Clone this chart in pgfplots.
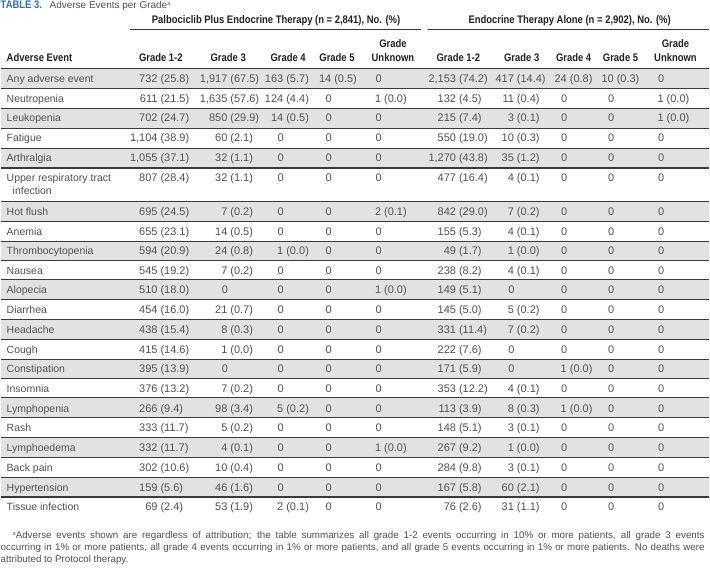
\documentclass[border=0pt]{standalone}
\usepackage{pgfplots}
\pgfplotsset{compat=1.18}
\usepackage{pgfplotstable}
\usepackage{fontspec}
\setmainfont{Liberation Sans}
\newfontfamily\hdr{Liberation Sans}[FakeStretch=0.86]
\definecolor{rowgray}{HTML}{E2E2E2}
\definecolor{rulec}{HTML}{3A3A3A}
\definecolor{bodytext}{HTML}{525252}
\definecolor{headtext}{HTML}{222222}
\definecolor{titleblue}{HTML}{2A72B8}
\newcommand\bodyfont{\fontsize{10.5bp}{12bp}\selectfont}
\newcommand\numfont{\fontsize{11bp}{12bp}\selectfont}
\newcommand\hdrf{\hdr\bfseries\fontsize{11bp}{13bp}\selectfont}
\newcommand\footf{\fontsize{9.8bp}{12bp}\selectfont}
\def\cellsplit#1 #2\relax{\llap{#1}\ifx\relax#2\relax\else\ #2\fi}

\pgfplotstableread[col sep=semicolon]{
y;ae;p12;p3;p4;p5;pu;e12;e3;e4;e5;eu
83;Any adverse event;732 (25.8);1,917 (67.5);163 (5.7);14 (0.5);0;2,153 (74.2);417 (14.4);24 (0.8);10 (0.3);0
102.5;Neutropenia;611 (21.5);1,635 (57.6);124 (4.4);0;1 (0.0);132 (4.5);11 (0.4);0;0;1 (0.0)
122;Leukopenia;702 (24.7);850 (29.9);14 (0.5);0;0;215 (7.4);3 (0.1);0;0;1 (0.0)
142;Fatigue;1,104 (38.9);60 (2.1);0;0;0;550 (19.0);10 (0.3);0;0;0
162;Arthralgia;1,055 (37.1);32 (1.1);0;0;0;1,270 (43.8);35 (1.2);0;0;0
181.5;Upper respiratory tract;807 (28.4);32 (1.1);0;0;0;477 (16.4);4 (0.1);0;0;0
215.5;Hot flush;695 (24.5);7 (0.2);0;0;2 (0.1);842 (29.0);7 (0.2);0;0;0
235.5;Anemia;655 (23.1);14 (0.5);0;0;0;155 (5.3);4 (0.1);0;0;0
255;Thrombocytopenia;594 (20.9);24 (0.8);1 (0.0);0;0;49 (1.7);1 (0.0);0;0;0
274.5;Nausea;545 (19.2);7 (0.2);0;0;0;238 (8.2);4 (0.1);0;0;0
294;Alopecia;510 (18.0);0;0;0;1 (0.0);149 (5.1);0;0;0;0
314;Diarrhea;454 (16.0);21 (0.7);0;0;0;145 (5.0);5 (0.2);0;0;0
334;Headache;438 (15.4);8 (0.3);0;0;0;331 (11.4);7 (0.2);0;0;0
354;Cough;415 (14.6);1 (0.0);0;0;0;222 (7.6);0;0;0;0
373.5;Constipation;395 (13.9);0;0;0;0;171 (5.9);0;1 (0.0);0;0
393;Insomnia;376 (13.2);7 (0.2);0;0;0;353 (12.2);4 (0.1);0;0;0
413;Lymphopenia;266 (9.4);98 (3.4);5 (0.2);0;0;113 (3.9);8 (0.3);1 (0.0);0;0
432.5;Rash;333 (11.7);5 (0.2);0;0;0;148 (5.1);3 (0.1);0;0;0
452.5;Lymphoedema;332 (11.7);4 (0.1);0;0;1 (0.0);267 (9.2);1 (0.0);0;0;0
472;Back pain;302 (10.6);10 (0.4);0;0;0;284 (9.8);3 (0.1);0;0;0
492;Hypertension;159 (5.6);46 (1.6);0;0;0;167 (5.8);60 (2.1);0;0;0
511.5;Tissue infection;69 (2.4);53 (1.9);2 (0.1);0;0;76 (2.6);31 (1.1);0;0;0
}\aetable

\pgfplotsset{
  cellplot/.style={draw=none, mark=none, forget plot,
    point meta=explicit symbolic,
    nodes near coords={\expandafter\cellsplit\pgfplotspointmeta{} \relax},
    every node near coord/.append style={anchor=base west, inner sep=0pt, font=\numfont, text=bodytext}},
  labelplot/.style={draw=none, mark=none, forget plot,
    point meta=explicit symbolic,
    nodes near coords={\pgfplotspointmeta},
    every node near coord/.append style={anchor=base west, inner sep=0pt, font=\bodyfont, text=bodytext}},
}
\newcommand\grayrow[2]{\addplot[fill=rowgray, draw=none, forget plot] coordinates {(0,#1) (710,#1) (710,#2) (0,#2)};}
\newcommand\rowline[1]{\addplot[rulec, line width=1.1bp, forget plot] coordinates {(0,#1) (710,#1)};}
\newcommand\colhead[3]{\node[anchor=base, inner sep=0pt, text=headtext, font=\hdrf] at (axis cs:#1,#2) {#3};}

\begin{document}
\begin{tikzpicture}
\begin{axis}[scale only axis, width=710bp, height=570bp,
  xmin=0, xmax=710, ymin=0, ymax=570, y dir=reverse,
  hide axis, clip=false]
\addplot[fill=white, draw=none, forget plot] coordinates {(0,0) (710,0) (710,570) (0,570)};
% shaded rows
\grayrow{68.5}{88.5}
\grayrow{108.3}{128.3}
\grayrow{148.3}{168.3}
\grayrow{201.7}{221.7}
\grayrow{241.7}{260.5}
\grayrow{280.3}{300}
\grayrow{320}{340}
\grayrow{359.7}{379}
\grayrow{398.5}{418.3}
\grayrow{438.3}{458.3}
\grayrow{478}{497.8}
% rules
\rowline{68.5}\rowline{88.5}\rowline{108.3}\rowline{128.3}\rowline{148.3}
\rowline{168.3}\rowline{201.7}\rowline{221.7}\rowline{241.7}\rowline{260.5}
\rowline{280.3}\rowline{300}\rowline{320}\rowline{340}\rowline{359.7}
\rowline{379}\rowline{398.5}\rowline{418.3}\rowline{438.3}\rowline{458.3}
\rowline{478}\rowline{497.8}
\addplot[rulec, line width=1.2bp, forget plot] coordinates {(130,29.5) (421,29.5)};
\addplot[rulec, line width=1.2bp, forget plot] coordinates {(428,29.5) (710,29.5)};
% row labels
\addplot[labelplot] table[x expr=6, y=y, meta=ae] {\aetable};
% values
\addplot[cellplot] table[x expr=157, y=y, meta=p12] {\aetable};
\addplot[cellplot] table[x expr=227, y=y, meta=p3] {\aetable};
\addplot[cellplot] table[x expr=283, y=y, meta=p4] {\aetable};
\addplot[cellplot] table[x expr=331, y=y, meta=p5] {\aetable};
\addplot[cellplot] table[x expr=381, y=y, meta=pu] {\aetable};
\addplot[cellplot] table[x expr=456, y=y, meta=e12] {\aetable};
\addplot[cellplot] table[x expr=514, y=y, meta=e3] {\aetable};
\addplot[cellplot] table[x expr=567, y=y, meta=e4] {\aetable};
\addplot[cellplot] table[x expr=614, y=y, meta=e5] {\aetable};
\addplot[cellplot] table[x expr=664, y=y, meta=eu] {\aetable};
% title
\node[anchor=base west, inner sep=0pt, text=titleblue, font={\hdr\bfseries\fontsize{11bp}{12bp}\selectfont}] at (axis cs:0,8.5) {TABLE 3.};
\node[anchor=base west, inner sep=0pt, text=bodytext, font={\fontsize{10bp}{12bp}\selectfont}] at (axis cs:49,8.5) {Adverse Events per Grade\raisebox{0.6ex}{\fontsize{5.5bp}{6bp}\selectfont a}};
% group headers
\colhead{276}{24}{Palbociclib Plus Endocrine Therapy (n = 2,841), No. (\%)}
\colhead{570}{24}{Endocrine Therapy Alone (n = 2,902), No. (\%)}
% column headers
\node[anchor=base west, inner sep=0pt, text=headtext, font=\hdrf] at (axis cs:6,62) {Adverse Event};
\colhead{160.5}{62}{Grade 1-2}
\colhead{228}{62}{Grade 3}
\colhead{288}{62}{Grade 4}
\colhead{337}{62}{Grade 5}
\colhead{393}{62}{Unknown}
\colhead{393}{48}{Grade}
\colhead{458.5}{62}{Grade 1-2}
\colhead{522}{62}{Grade 3}
\colhead{574}{62}{Grade 4}
\colhead{621}{62}{Grade 5}
\colhead{676}{62}{Unknown}
\colhead{676}{48}{Grade}
% second line of wrapped label
\node[anchor=base west, inner sep=0pt, text=bodytext, font=\bodyfont] at (axis cs:12,194.5) {infection};
% footnote
\node[anchor=base west, inner sep=0pt, text=bodytext, font=\footf] at (axis cs:12,539) {\makebox[693bp][s]{\raisebox{0.6ex}{\fontsize{5.5bp}{6bp}\selectfont a}Adverse events shown are regardless of attribution; the table summarizes all grade 1-2 events occurring in 10\% or more patients, all grade 3 events}};
\node[anchor=base west, inner sep=0pt, text=bodytext, font=\footf] at (axis cs:0,551) {\makebox[705bp][s]{occurring in 1\% or more patients, all grade 4 events occurring in 1\% or more patients, and all grade 5 events occurring in 1\% or more patients. No deaths were}};
\node[anchor=base west, inner sep=0pt, text=bodytext, font=\footf] at (axis cs:0,563) {attributed to Protocol therapy.};
\end{axis}
\end{tikzpicture}
\end{document}
